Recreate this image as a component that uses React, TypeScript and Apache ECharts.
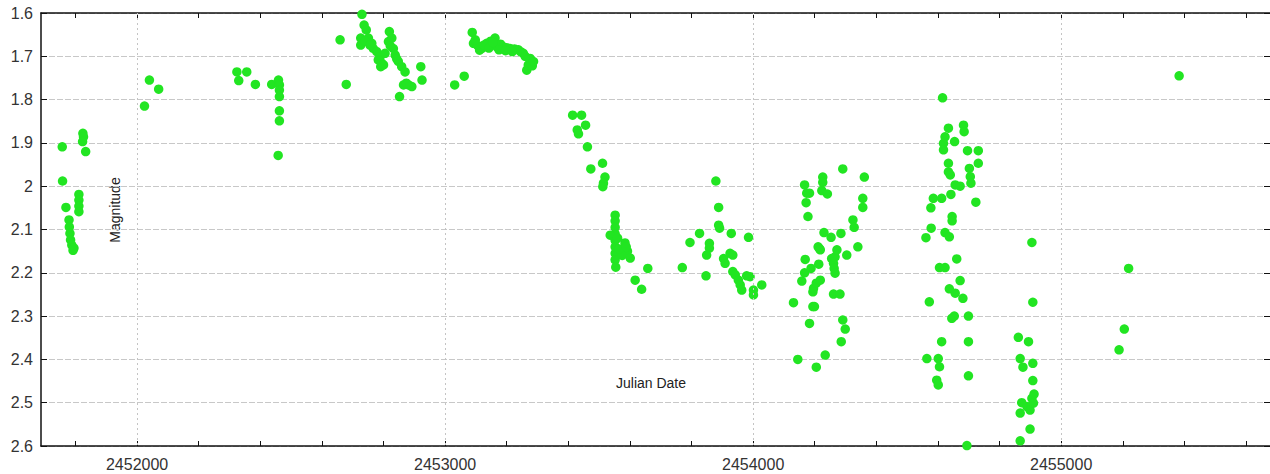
import React, { useEffect, useRef } from "react";
import * as echarts from "echarts";

// Observing seasons: [Julian Date, magnitude]
const season2000: [number, number][] = [
  [2451757, 1.909], [2451758, 1.988], [2451769, 2.049], [2451779, 2.078], [2451780, 2.094],
  [2451782, 2.109], [2451784, 2.124], [2451788, 2.136], [2451795, 2.143], [2451792, 2.148],
  [2451811, 2.019], [2451811, 2.032], [2451811, 2.046], [2451811, 2.059], [2451824, 1.878],
  [2451826, 1.886], [2451823, 1.897], [2451833, 1.92],
];
const season2001: [number, number][] = [
  [2452024, 1.815], [2452040, 1.755], [2452070, 1.776],
];
const season2002: [number, number][] = [
  [2452324, 1.736], [2452330, 1.756], [2452356, 1.736], [2452384, 1.765], [2452437, 1.765],
  [2452459, 1.755], [2452462, 1.766], [2452462, 1.778], [2452462, 1.793], [2452462, 1.826],
  [2452462, 1.849], [2452458, 1.929],
];
const season2003: [number, number][] = [
  [2452659, 1.662], [2452679, 1.765], [2452730, 1.603], [2452737, 1.628], [2452744, 1.639],
  [2452726, 1.658], [2452726, 1.674], [2452751, 1.658], [2452762, 1.67], [2452767, 1.682],
  [2452778, 1.689], [2452789, 1.701], [2452794, 1.716], [2452791, 1.724], [2452805, 1.693],
  [2452816, 1.666], [2452819, 1.643], [2452827, 1.658], [2452832, 1.682], [2452838, 1.697],
  [2452848, 1.712], [2452859, 1.724], [2452870, 1.736], [2452852, 1.793], [2452865, 1.766],
  [2452881, 1.766], [2452892, 1.77], [2452921, 1.724], [2452925, 1.755],
  [2452740, 1.665], [2452756, 1.674], [2452783, 1.708], [2452800, 1.72], [2452822, 1.676],
  [2452843, 1.706], [2452874, 1.762],
];
const season2004: [number, number][] = [
  [2453031, 1.766], [2453062, 1.746], [2453088, 1.645], [2453092, 1.67], [2453105, 1.675],
  [2453119, 1.682], [2453135, 1.67], [2453148, 1.665], [2453162, 1.658], [2453168, 1.678],
  [2453180, 1.672], [2453189, 1.678], [2453200, 1.68], [2453211, 1.682], [2453225, 1.683],
  [2453238, 1.685], [2453254, 1.693], [2453265, 1.732], [2453270, 1.72], [2453276, 1.705],
  [2453283, 1.722], [2453287, 1.712],
  [2453098, 1.662], [2453112, 1.686], [2453126, 1.674], [2453142, 1.681], [2453155, 1.668],
  [2453175, 1.685], [2453196, 1.687], [2453218, 1.689], [2453246, 1.69], [2453260, 1.7],
];
const season2005: [number, number][] = [
  [2453414, 1.836], [2453443, 1.836], [2453456, 1.859], [2453429, 1.87], [2453433, 1.879],
  [2453462, 1.909], [2453473, 1.96], [2453511, 1.947], [2453519, 1.979], [2453514, 1.993],
  [2453512, 2.001], [2453552, 2.067], [2453552, 2.08], [2453552, 2.095], [2453552, 2.11],
  [2453552, 2.125], [2453552, 2.14], [2453552, 2.155], [2453552, 2.17], [2453554, 2.187],
  [2453536, 2.113], [2453584, 2.131], [2453592, 2.15], [2453601, 2.166], [2453575, 2.16],
  [2453658, 2.19], [2453617, 2.217], [2453638, 2.238],
  [2453560, 2.12], [2453565, 2.145], [2453588, 2.14],
];
const season2006: [number, number][] = [
  [2453770, 2.188], [2453795, 2.13], [2453826, 2.109], [2453847, 2.207], [2453849, 2.159],
  [2453858, 2.132], [2453858, 2.143], [2453879, 1.988], [2453888, 2.049], [2453888, 2.09],
  [2453891, 2.097], [2453929, 2.109], [2453904, 2.167], [2453909, 2.178], [2453925, 2.155],
  [2453934, 2.159], [2453934, 2.197], [2453942, 2.205], [2453952, 2.217], [2453958, 2.228],
  [2453963, 2.24], [2453985, 2.118], [2453979, 2.207], [2453990, 2.209], [2454001, 2.24],
  [2454001, 2.251], [2454028, 2.228],
];
const season2007: [number, number][] = [
  [2454131, 2.269], [2454145, 2.4], [2454158, 2.219], [2454167, 1.997], [2454167, 2.2],
  [2454169, 2.169], [2454172, 2.038], [2454174, 2.016], [2454178, 2.07], [2454183, 2.016],
  [2454183, 2.317], [2454188, 2.19], [2454194, 2.244], [2454194, 2.278], [2454196, 2.236],
  [2454199, 2.278], [2454205, 2.224], [2454205, 2.418], [2454211, 2.14], [2454213, 2.18],
  [2454216, 2.145], [2454218, 2.147], [2454218, 2.217], [2454223, 2.01], [2454226, 1.979],
  [2454226, 1.991], [2454230, 2.107], [2454234, 2.39], [2454241, 2.018], [2454253, 2.118],
  [2454255, 2.167], [2454261, 2.178], [2454261, 2.249], [2454263, 2.19], [2454266, 2.163],
  [2454266, 2.201], [2454272, 2.147], [2454282, 2.249], [2454285, 2.109], [2454286, 2.359],
  [2454291, 1.96], [2454291, 2.309], [2454299, 2.33], [2454304, 2.159], [2454324, 2.078],
  [2454328, 2.095], [2454340, 2.14], [2454356, 2.028], [2454356, 2.049], [2454361, 1.979],
];
const season2008: [number, number][] = [
  [2454561, 2.119], [2454564, 2.398], [2454572, 2.267], [2454577, 2.05], [2454578, 2.097],
  [2454585, 2.028], [2454596, 2.448], [2454601, 2.398], [2454601, 2.459], [2454605, 2.188],
  [2454605, 2.417], [2454612, 2.028], [2454612, 2.359], [2454615, 1.796], [2454618, 1.901],
  [2454618, 1.916], [2454623, 1.886], [2454623, 2.107], [2454623, 2.188], [2454634, 1.866],
  [2454634, 1.947], [2454634, 1.967], [2454637, 2.117], [2454637, 2.237], [2454640, 1.974],
  [2454642, 2.019], [2454645, 2.305], [2454646, 2.07], [2454646, 2.08], [2454653, 2.3],
  [2454654, 1.897], [2454656, 1.997], [2454656, 2.247], [2454661, 2.168], [2454672, 2.0],
  [2454672, 2.218], [2454681, 2.259], [2454683, 1.859], [2454685, 1.874], [2454694, 2.599],
  [2454696, 1.918], [2454699, 2.3], [2454699, 2.359], [2454699, 2.438], [2454702, 1.959],
  [2454705, 1.978], [2454707, 1.993], [2454723, 2.037], [2454731, 1.918], [2454731, 1.947],
];
const season2009: [number, number][] = [
  [2454861, 2.349], [2454867, 2.398], [2454867, 2.524], [2454867, 2.588], [2454872, 2.5],
  [2454876, 2.418], [2454889, 2.509], [2454894, 2.359], [2454899, 2.517], [2454899, 2.561],
  [2454905, 2.13], [2454905, 2.49], [2454908, 2.268], [2454908, 2.409], [2454908, 2.449],
  [2454910, 2.501], [2454912, 2.48],
];
const season2010: [number, number][] = [
  [2455188, 2.378], [2455205, 2.33], [2455219, 2.19], [2455383, 1.745],
];

const majorTicks = [2452000, 2453000, 2454000, 2455000];
const minorTicks = [
  2451800, 2452000, 2452200, 2452400, 2452600, 2452800, 2453000, 2453200, 2453400,
  2453600, 2453800, 2454000, 2454200, 2454400, 2454600, 2454800, 2455000, 2455200,
  2455400, 2455600,
];
const X_MIN = 2451688;
const X_MAX = 2455678;
const Y_MIN = 1.6;
const Y_MAX = 2.6;

const allPoints = [
  ...season2000, ...season2001, ...season2002, ...season2003, ...season2004, ...season2005,
  ...season2006, ...season2007, ...season2008, ...season2009, ...season2010,
];

const FONT = "'Liberation Sans', Arial, sans-serif";
const AXIS_COLOR = "#111";

export default function App() {
  const ref = useRef<HTMLDivElement>(null);
  useEffect(() => {
    const chart = echarts.init(ref.current!, null, { renderer: "svg" });
    const xCommon = {
      type: "value",
      min: X_MIN,
      max: X_MAX,
      axisLine: { show: true, onZero: false, lineStyle: { color: AXIS_COLOR, width: 1.5 } },
      axisTick: { show: true, inside: true, length: 5, customValues: minorTicks, lineStyle: { color: AXIS_COLOR, width: 1 } },
      splitLine: { show: false },
    };
    const yCommon = {
      type: "value",
      inverse: true,
      min: Y_MIN,
      max: Y_MAX,
      interval: 0.1,
    };
    chart.setOption({
      animation: false,
      backgroundColor: "#ffffff",
      grid: { left: 41, top: 13, right: 0, bottom: 28, containLabel: false },
      xAxis: [
        {
          ...xCommon,
          position: "bottom",
          axisLabel: {
            show: true,
            customValues: majorTicks,
            formatter: (v: number) => String(v),
            color: "#333",
            fontSize: 16,
            fontFamily: FONT,
            margin: 10,
          },
        },
        {
          ...xCommon,
          position: "top",
          axisLabel: { show: false },
        },
      ],
      yAxis: [
        {
          ...yCommon,
          position: "left",
          axisLine: { show: true, onZero: false, lineStyle: { color: AXIS_COLOR, width: 1.5 } },
          axisTick: { show: true, inside: true, length: 6, lineStyle: { color: AXIS_COLOR } },
          axisLabel: {
            formatter: (v: number) => String(Math.round(v * 10) / 10),
            color: "#333",
            fontSize: 16,
            fontFamily: FONT,
            margin: 8,
          },
          splitLine: { show: true, lineStyle: { color: "#c8c8c8", width: 1, type: [6, 2] } },
        },
        {
          ...yCommon,
          position: "right",
          axisLine: { show: false, onZero: false },
          axisTick: { show: true, inside: true, length: 6, lineStyle: { color: AXIS_COLOR } },
          axisLabel: { show: false },
          splitLine: { show: false },
        },
      ],
      graphic: [
        {
          type: "text",
          x: 115,
          y: 210,
          rotation: Math.PI / 2,
          style: {
            text: "Magnitude",
            fill: "#222",
            font: `14px ${FONT}`,
            align: "center",
            verticalAlign: "middle",
          },
        },
        {
          type: "text",
          x: 651,
          y: 383,
          style: {
            text: "Julian Date",
            fill: "#222",
            font: `14px ${FONT}`,
            align: "center",
            verticalAlign: "middle",
          },
        },
      ],
      series: [
        {
          type: "scatter",
          xAxisIndex: 0,
          yAxisIndex: 0,
          data: [],
          z: 1,
          markLine: {
            silent: true,
            symbol: "none",
            label: { show: false },
            lineStyle: { color: "#c4c4c4", width: 1, type: [2, 3] },
            data: majorTicks.map((v) => ({ xAxis: v })),
          },
        },
        {
          type: "scatter",
          xAxisIndex: 0,
          yAxisIndex: 0,
          data: allPoints,
          symbol: "circle",
          symbolSize: 9.5,
          itemStyle: { color: "#22e522", opacity: 1 },
          z: 3,
        },
      ],
    });
    return () => chart.dispose();
  }, []);
  return (
    <div
      ref={ref}
      style={{ position: "absolute", left: 0, top: 0, width: 1270, height: 474 }}
    />
  );
}
